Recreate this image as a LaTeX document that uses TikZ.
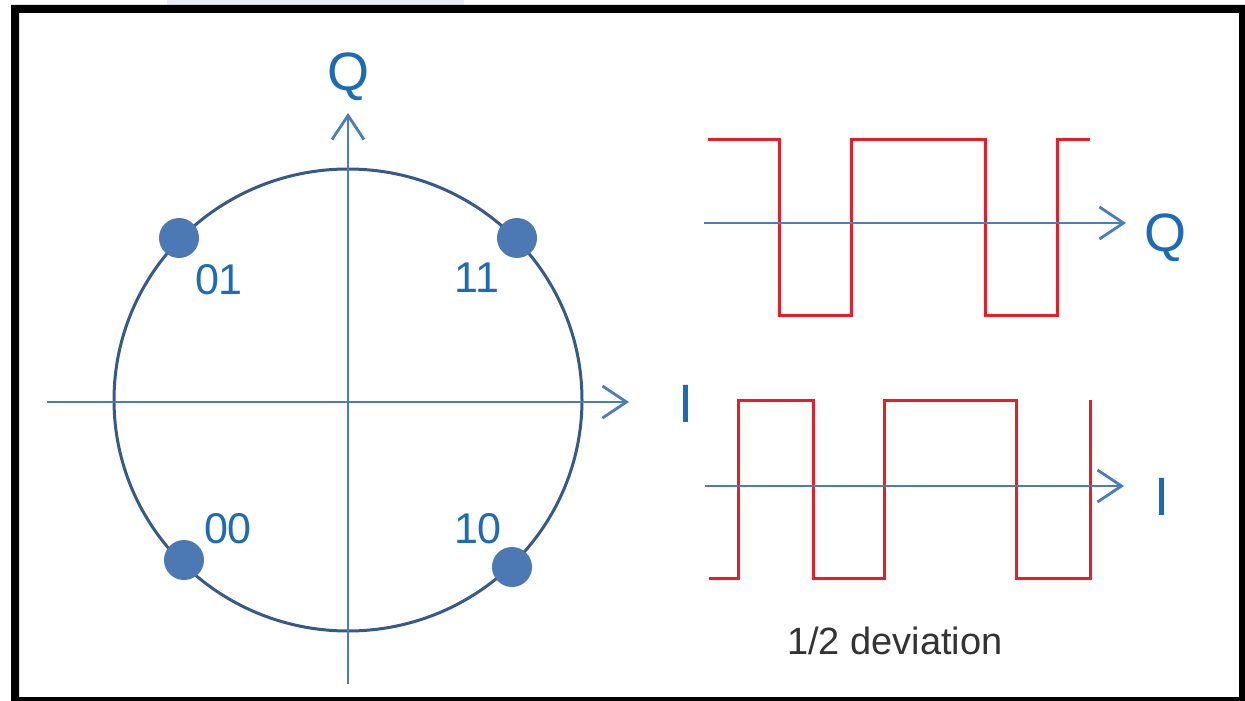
\documentclass[tikz,border=0pt]{standalone}
\usepackage{fontspec}
\setmainfont{Liberation Sans}
\usetikzlibrary{arrows.meta}

\definecolor{axisblue}{HTML}{4A7DBA}
\definecolor{ringblue}{HTML}{36598A}
\definecolor{dotblue}{HTML}{4C79B3}
\definecolor{labelblue}{HTML}{1C6BB8}
\definecolor{wavered}{HTML}{EC1C24}
\definecolor{notegray}{HTML}{333333}
\definecolor{faint}{HTML}{ECECF4}

\tikzset{
  axis/.style={draw=axisblue, line width=2.8pt,
    -{Straight Barb[length=24pt, width=32pt, line width=2.8pt]}},
  ring/.style={draw=ringblue, line width=3pt},
  dot/.style={circle, fill=dotblue, minimum size=40pt, inner sep=0pt},
  wave/.style={draw=wavered, line width=3pt, line join=miter},
  axlabel/.style={text=labelblue, anchor=base, inner sep=0pt,
    font=\fontsize{54}{60}\selectfont},
  ptlabel/.style={text=labelblue, anchor=base, inner sep=0pt,
    font=\fontsize{43}{48}\selectfont},
  note/.style={text=notegray, anchor=base, inner sep=0pt,
    font=\fontsize{38}{44}\selectfont}
}

\begin{document}
\begin{tikzpicture}[x=1pt, y=-1pt]
  \useasboundingbox (0,0) rectangle (1245,701);
  \fill[white] (0,0) rectangle (1245,701);

  % faint strip peeking above the frame
  \fill[faint] (167,0) rectangle (464,5);

  % black frame
  \fill[black, even odd rule] (11,5) rectangle (1245,701)
                              (19,13) rectangle (1239,697);

  % ---------- constellation diagram ----------
  \coordinate (ctr) at (348,400);
  \draw[ring] (ctr) ellipse[x radius=234, y radius=231];

  \coordinate (iL) at (47,402);
  \coordinate (iR) at (629,402);
  \coordinate (qB) at (348,684);
  \coordinate (qT) at (348,113);
  \draw[axis] (iL) -- (iR);
  \draw[axis] (qB) -- (qT);

  \node[axlabel] (lq) at (348,90) {Q};
  \node[axlabel] (li) at (686,422) {I};

  \node[dot] (d01) at (179,238) {};
  \node[dot] (d11) at (517,238) {};
  \node[dot] (d00) at (184,560) {};
  \node[dot] (d10) at (512,567) {};

  \node[ptlabel] (t01) at (219,294) {01};
  \node[ptlabel] (t11) at (477,292) {11};
  \node[ptlabel] (t00) at (228,543) {00};
  \node[ptlabel] (t10) at (478,543) {10};

  % ---------- Q channel waveform ----------
  \coordinate (qa0) at (704,223);
  \coordinate (qa1) at (1126,223);
  \draw[wave] (708,139) -- (779,139) -- (779,315) -- (851,315) -- (851,139)
              -- (985,139) -- (985,315) -- (1057,315) -- (1057,139) -- (1090,139);
  \draw[axis] (qa0) -- (qa1);
  \node[axlabel] (lq2) at (1165,251) {Q};

  % ---------- I channel waveform ----------
  \coordinate (ia0) at (705,486);
  \coordinate (ia1) at (1124,486);
  \draw[wave] (709,578) -- (738,578) -- (738,400) -- (813,400) -- (813,578)
              -- (884,578) -- (884,400) -- (1016,400) -- (1016,578) -- (1090,578)
              -- (1090,400);
  \draw[axis] (ia0) -- (ia1);
  \node[axlabel] (li2) at (1162,515) {I};

  \node[note] (dev) at (895,654) {1/2 deviation};
\end{tikzpicture}
\end{document}
